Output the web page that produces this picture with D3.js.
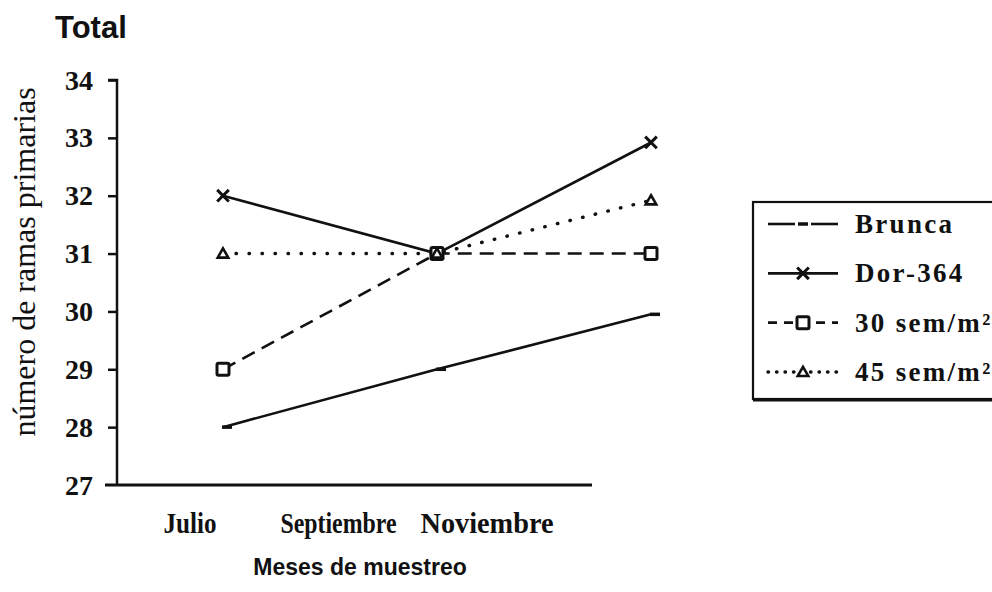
<!DOCTYPE html>
<html>
<head>
<meta charset="utf-8">
<script src="https://cdn.jsdelivr.net/npm/d3@7"></script>
<style>
html,body{margin:0;padding:0;background:#fff;}
svg{display:block;}
</style>
</head>
<body>
<script>
const months = ["Julio", "Septiembre", "Noviembre"];
const yTicks = [27, 28, 29, 30, 31, 32, 33, 34];
const seriesNames = ["Brunca", "Dor-364", "30 sem/m²", "45 sem/m²"];
const brunca = [28, 29, 29.95];
const dor364 = [32, 31, 32.92];
const sem30 = [29, 31, 31];
const sem45 = [31, 31, 31.92];

const W = 992, H = 592;
const svg = d3.select("body").append("svg").attr("width", W).attr("height", H);

const y = d3.scaleLinear().domain([27, 34]).range([485, 80]);
const xData = d3.scalePoint().domain(months).range([223, 651]);
const xLab = d3.scalePoint().domain(months).range([190, 487]);
const labWidth = {"Julio": 53, "Septiembre": 116, "Noviembre": 133};

const ink = "#111";
const serif = "'Liberation Serif','Times New Roman',serif";
const sans = "'Liberation Sans',Arial,sans-serif";

// axes
const yAxis = d3.axisLeft(y).tickValues(yTicks.filter(d => d > 27)).tickSize(9).tickFormat("");
const gy = svg.append("g").attr("transform", "translate(117,0)").call(yAxis);
gy.select(".domain").attr("d", "M-9,80H0V485").attr("stroke", ink).attr("stroke-width", 2.5).attr("fill", "none");
gy.selectAll(".tick line").attr("stroke", ink).attr("stroke-width", 2.5);

svg.append("line").attr("x1", 105).attr("x2", 592).attr("y1", 485).attr("y2", 485)
  .attr("stroke", ink).attr("stroke-width", 3);

// y tick labels
svg.append("g").selectAll("text").data(yTicks).join("text")
  .attr("x", 93).attr("y", d => y(d)).attr("dy", "0.34em")
  .attr("text-anchor", "end")
  .attr("font-family", serif).attr("font-weight", "bold").attr("font-size", 28)
  .attr("fill", ink).text(d => d);

// x labels
svg.append("g").selectAll("text").data(months).join("text")
  .attr("x", d => xLab(d)).attr("y", 533)
  .attr("text-anchor", "middle")
  .attr("textLength", d => labWidth[d]).attr("lengthAdjust", "spacingAndGlyphs")
  .attr("font-family", serif).attr("font-weight", "bold").attr("font-size", 29)
  .attr("fill", ink).text(d => d);

// titles
svg.append("text").attr("x", 55).attr("y", 38)
  .attr("font-family", sans).attr("font-weight", "bold").attr("font-size", 31)
  .attr("fill", ink).text("Total");
svg.append("text").attr("x", 360).attr("y", 575).attr("text-anchor", "middle")
  .attr("font-family", sans).attr("font-weight", "bold").attr("font-size", 23)
  .attr("fill", ink).text("Meses de muestreo");
svg.append("text").attr("transform", "translate(35,262) rotate(-90)")
  .attr("text-anchor", "middle")
  .attr("font-family", serif).attr("font-size", 32)
  .attr("fill", ink).text("número de ramas primarias");

// series
const series = [
  {name: seriesNames[0], vals: brunca, dash: null, mark: "dash"},
  {name: seriesNames[1], vals: dor364, dash: null, mark: "x"},
  {name: seriesNames[2], vals: sem30, dash: "14,8", mark: "square"},
  {name: seriesNames[3], vals: sem45, dash: "0.5,12.5", mark: "tri"}
];

function drawMarker(g, type, cx, cy) {
  if (type === "dash") {
    g.append("line").attr("x1", cx - 5).attr("x2", cx + 5).attr("y1", cy).attr("y2", cy)
      .attr("stroke", ink).attr("stroke-width", 3.5);
  } else if (type === "x") {
    g.append("path").attr("d", d3.symbol(d3.symbolX, 90)())
      .attr("transform", `translate(${cx},${cy})`)
      .attr("fill", "none").attr("stroke", ink).attr("stroke-width", 3);
  } else if (type === "square") {
    g.append("rect").attr("x", cx - 6).attr("y", cy - 6).attr("width", 12).attr("height", 12)
      .attr("rx", 1.5).attr("fill", "#fff").attr("stroke", ink).attr("stroke-width", 3);
  } else if (type === "tri") {
    g.append("path").attr("d", d3.symbol(d3.symbolTriangle2, 80)())
      .attr("transform", `translate(${cx},${cy + 1})`)
      .attr("fill", "#fff").attr("stroke", ink).attr("stroke-width", 2.6);
  }
}

const line = d3.line().x((d, i) => xData(months[i])).y(d => y(d));
const plot = svg.append("g");
series.forEach(s => {
  plot.append("path").datum(s.vals).attr("d", line)
    .attr("fill", "none").attr("stroke", ink)
    .attr("stroke-linecap", s.mark === "tri" ? "round" : "butt")
    .attr("stroke-width", s.mark === "tri" ? 3.4 : 2.6)
    .attr("stroke-dasharray", s.dash);
});
series.forEach(s => {
  s.vals.forEach((v, i) => drawMarker(plot, s.mark, xData(months[i]) + (s.mark === "dash" ? 4 : 0), y(v)));
});

// legend
const lg = svg.append("g");
lg.append("rect").attr("x", 753).attr("y", 202).attr("width", 260).attr("height", 197)
  .attr("fill", "#fff").attr("stroke", ink).attr("stroke-width", 2.2);
lg.append("line").attr("x1", 753).attr("x2", 992).attr("y1", 400).attr("y2", 400)
  .attr("stroke", ink).attr("stroke-width", 3);
const legY = d3.scalePoint().domain(seriesNames).range([224, 372]);
series.forEach(s => {
  const cy = legY(s.name);
  const sample = lg.append("g");
  if (s.mark === "dash") {
    sample.append("line").attr("x1", 768).attr("x2", 795).attr("y1", cy).attr("y2", cy).attr("stroke", ink).attr("stroke-width", 2.6);
    sample.append("line").attr("x1", 811).attr("x2", 838).attr("y1", cy).attr("y2", cy).attr("stroke", ink).attr("stroke-width", 2.6);
    drawMarker(sample, "dash", 803, cy);
  } else {
    sample.append("line").attr("x1", 768).attr("x2", 838).attr("y1", cy).attr("y2", cy)
      .attr("stroke", ink).attr("stroke-width", s.mark === "tri" ? 3.4 : 2.6)
      .attr("stroke-linecap", s.mark === "tri" ? "round" : "butt")
      .attr("stroke-dasharray", s.mark === "square" ? "9,7" : (s.mark === "tri" ? "0.5,8" : s.dash));
    drawMarker(sample, s.mark, 803, cy);
  }
  lg.append("text").attr("x", 855).attr("y", cy).attr("dy", "0.33em")
    .attr("font-family", serif).attr("font-weight", "bold").attr("font-size", 27)
    .attr("letter-spacing", 2.3)
    .attr("fill", ink).text(s.name);
});
</script>
</body>
</html>
